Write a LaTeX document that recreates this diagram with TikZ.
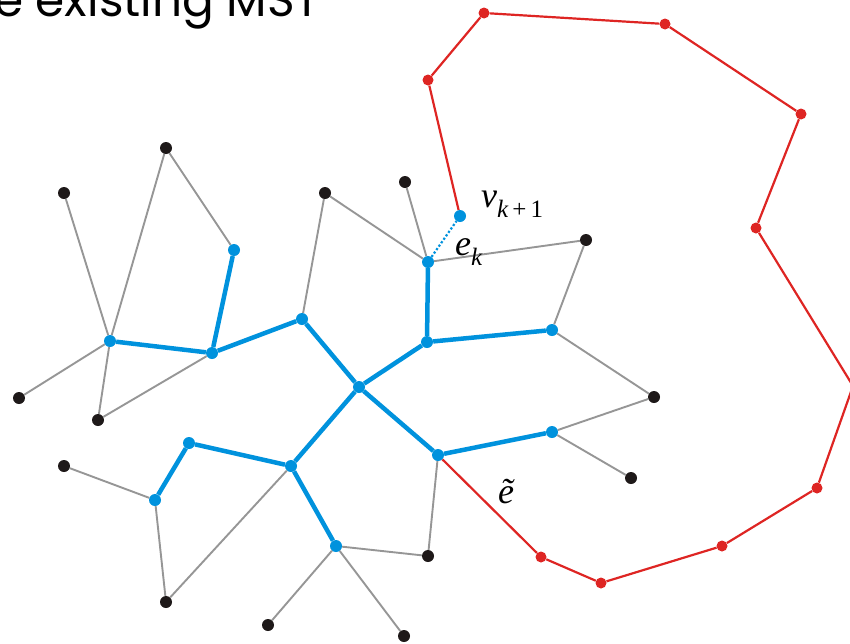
\documentclass[tikz,border=0pt]{standalone}
\usepackage{fontspec}
\newfontfamily\tms{Liberation Serif}
\newfontfamily\titlefont{Poppins}
\definecolor{mstblue}{RGB}{0,146,221}
\definecolor{cycred}{RGB}{222,37,35}
\definecolor{edgegray}{RGB}{150,150,150}
\definecolor{nodeblack}{RGB}{30,25,25}
\tikzset{
  blk/.style={circle,fill=nodeblack,inner sep=0pt,minimum size=12pt},
  bl/.style={circle,fill=mstblue,inner sep=0pt,minimum size=12pt},
  rd/.style={circle,fill=cycred,inner sep=0pt,minimum size=11pt},
  gedge/.style={draw=edgegray,line width=1.9pt},
  bedge/.style={draw=mstblue,line width=4.5pt},
  redge/.style={draw=cycred,line width=2.2pt},
  dotedge/.style={draw=mstblue,line width=2.2pt,dotted},
  lbl/.style={anchor=base west,inner sep=0pt,font=\tms\fontsize{36}{36}\selectfont\itshape},
}
\begin{document}
\begin{tikzpicture}[x=1pt,y=-1pt]
\useasboundingbox (0,0) rectangle (850,643);
\clip (0,0) rectangle (850,643);
% black nodes
\node[blk] (b1) at (166,148) {};
\node[blk] (b2) at (64,193) {};
\node[blk] (b3) at (325,193) {};
\node[blk] (b4) at (405,182) {};
\node[blk] (b5) at (586,240) {};
\node[blk] (b6) at (19,398) {};
\node[blk] (b7) at (98,420) {};
\node[blk] (b8) at (654,397) {};
\node[blk] (b9) at (64,466) {};
\node[blk] (b10) at (631,478) {};
\node[blk] (b11) at (428,556) {};
\node[blk] (b12) at (166,602) {};
\node[blk] (b13) at (268,625) {};
\node[blk] (b14) at (404,636) {};
% blue nodes
\node[bl] (l1) at (234,250) {};
\node[bl] (l2) at (110,341) {};
\node[bl] (l3) at (212,353) {};
\node[bl] (l4) at (302,319) {};
\node[bl] (l5) at (428,262) {};
\node[bl] (l6) at (460,216) {};
\node[bl] (l7) at (427,342) {};
\node[bl] (l8) at (552,330) {};
\node[bl] (l9) at (359,387) {};
\node[bl] (l10) at (552,432) {};
\node[bl] (l11) at (438,455) {};
\node[bl] (l12) at (189,443) {};
\node[bl] (l13) at (291,466) {};
\node[bl] (l14) at (155,500) {};
\node[bl] (l15) at (336,546) {};
% red nodes
\node[rd] (r1) at (484,13) {};
\node[rd] (r2) at (428,80) {};
\node[rd] (r3) at (665,24) {};
\node[rd] (r4) at (801,114) {};
\node[rd] (r5) at (756,228) {};
\coordinate (r6) at (853,386);
\node[rd] (r7) at (817,488) {};
\node[rd] (r8) at (722,546) {};
\node[rd] (r9) at (601,583) {};
\node[rd] (r10) at (541,557) {};
% gray edges
\draw[gedge] (b2) -- (l2);
\draw[gedge] (b1) -- (l2);
\draw[gedge] (b1) -- (l1);
\draw[gedge] (l2) -- (b6);
\draw[gedge] (l2) -- (b7);
\draw[gedge] (b7) -- (l3);
\draw[gedge] (b3) -- (l4);
\draw[gedge] (b3) -- (l5);
\draw[gedge] (b4) -- (l5);
\draw[gedge] (l5) -- (b5);
\draw[gedge] (b5) -- (l8);
\draw[gedge] (l8) -- (b8);
\draw[gedge] (b8) -- (l10);
\draw[gedge] (l10) -- (b10);
\draw[gedge] (b9) -- (l14);
\draw[gedge] (l14) -- (b12);
\draw[gedge] (b12) -- (l13);
\draw[gedge] (l15) -- (b11);
\draw[gedge] (b11) -- (l11);
\draw[gedge] (l15) -- (b13);
\draw[gedge] (l15) -- (b14);
% blue MST edges
\draw[bedge] (l1) -- (l3);
\draw[bedge] (l2) -- (l3);
\draw[bedge] (l3) -- (l4);
\draw[bedge] (l4) -- (l9);
\draw[bedge] (l9) -- (l7);
\draw[bedge] (l7) -- (l5);
\draw[bedge] (l7) -- (l8);
\draw[bedge] (l9) -- (l11);
\draw[bedge] (l11) -- (l10);
\draw[bedge] (l9) -- (l13);
\draw[bedge] (l13) -- (l12);
\draw[bedge] (l12) -- (l14);
\draw[bedge] (l13) -- (l15);
% dotted new edge
\draw[dotedge] (l5) -- (l6);
% red cycle path
\draw[redge] (l6) -- (r2) -- (r1) -- (r3) -- (r4) -- (r5) -- (r6) -- (r7) -- (r8) -- (r9) -- (r10) -- (l11);
% labels
\node[lbl] (vlab) at (481,207) {v\raisebox{-10pt}{\fontsize{25}{25}\selectfont k\,\upshape+\,1}};
\node[lbl] (eklab) at (455,255) {e\raisebox{-10pt}{\fontsize{25}{25}\selectfont k}};
\node[lbl] (etlab) at (498,503) {ẽ};
% title
\node[anchor=base west,inner sep=0pt,font=\titlefont\fontsize{47}{47}\selectfont] (title) at (-6,16) {e existing MST};
\end{tikzpicture}
\end{document}
